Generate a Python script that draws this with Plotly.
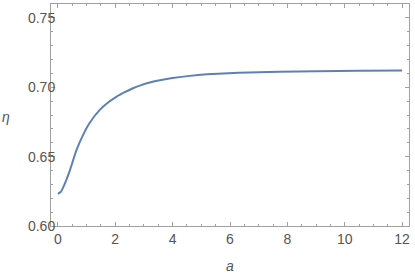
import plotly.graph_objects as go

a_vals = [0, 0.1, 0.2, 0.4, 0.65, 0.88, 1.1, 1.46, 1.75, 2.05, 2.35, 2.62, 2.86, 3.2, 3.6, 4.0, 4.6, 5.2, 6.3, 7.7, 9.0, 10.5, 12.0]
eta_vals = [0.6232, 0.6245, 0.6285, 0.639, 0.6548, 0.6657, 0.6741, 0.6837, 0.6890, 0.6933, 0.6966, 0.6993, 0.7012, 0.7034,
            0.7052, 0.7066, 0.7082, 0.7093, 0.7105, 0.7112, 0.7116, 0.7119, 0.7121]

x_ticks = [0, 2, 4, 6, 8, 10, 12]
y_ticks = [0.60, 0.65, 0.70, 0.75]
y_labels = ["0.60", "0.65", "0.70", "0.75"]

FONT = "Liberation Sans, Arial, sans-serif"

fig = go.Figure()
fig.add_trace(go.Scatter(x=a_vals, y=eta_vals, mode="lines",
                         line=dict(color="#5E81B5", width=2, shape="spline", smoothing=0.6),
                         hoverinfo="skip"))

axis_common = dict(showline=True, linecolor="#a0a0a0", linewidth=1, mirror="allticks",
                   ticks="inside", ticklen=4, tickcolor="#a0a0a0", showgrid=False, zeroline=False,
                   automargin=False,
                   tickfont=dict(family=FONT, size=14, color="#555555"))

fig.update_xaxes(range=[-0.24, 12.24], tickvals=x_ticks,
                 minor=dict(ticks="inside", ticklen=2, dtick=0.5, tick0=0, tickcolor="#a0a0a0", showgrid=False),
                 **axis_common)
fig.update_yaxes(range=[0.60, 0.76], tickvals=y_ticks, ticktext=y_labels, ticklabelstandoff=-8,
                 minor=dict(ticks="inside", ticklen=2, dtick=0.01, tick0=0.6, tickcolor="#a0a0a0", showgrid=False),
                 **axis_common)

fig.add_annotation(text="<i>η</i>", xref="paper", yref="paper", x=-0.143, y=0.49, xanchor="left",
                   showarrow=False, font=dict(family=FONT, size=14, color="#555555"))
fig.add_annotation(text="<i>a</i>", xref="paper", yref="paper", x=0.5, y=-0.225,
                   showarrow=False, font=dict(family=FONT, size=14, color="#555555"))

fig.update_layout(width=415, height=277, margin=dict(l=51, r=6, t=4, b=51),
                  plot_bgcolor="white", paper_bgcolor="white", showlegend=False)

fig.write_html("out.html", config={"displayModeBar": False, "staticPlot": True},
               post_script="document.body.style.margin='0';document.body.style.overflow='hidden';")
